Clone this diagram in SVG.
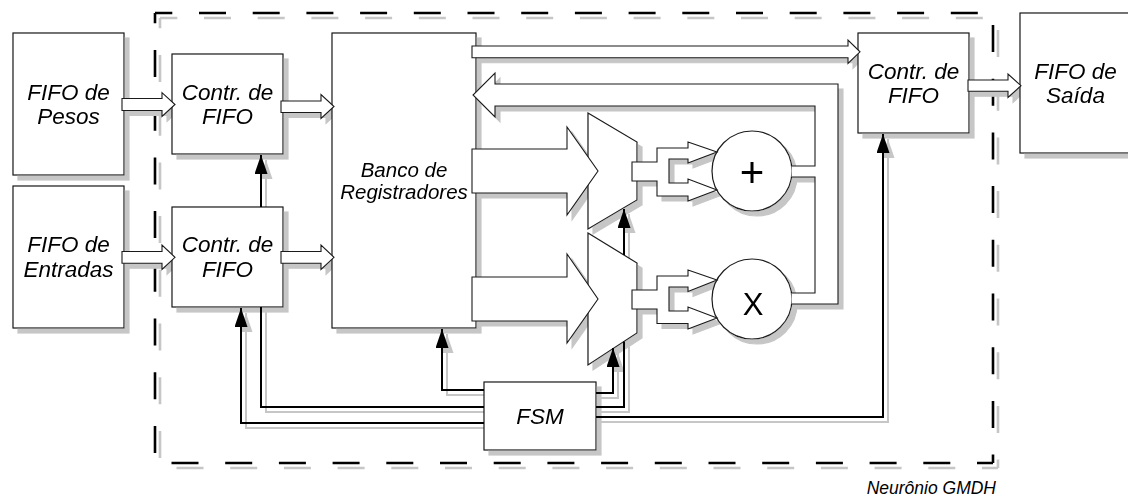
<svg xmlns="http://www.w3.org/2000/svg" xmlns:xlink="http://www.w3.org/1999/xlink" width="1128" height="498" viewBox="0 0 1128 498">
<defs>
<style>
.box{fill:#fff;stroke:#1a1a1a;stroke-width:1.2}
.lbl{font-family:"Liberation Sans",Arial,sans-serif;font-style:italic;font-size:22.5px;text-anchor:middle;fill:#000}
.op{font-family:"Liberation Sans",Arial,sans-serif;text-anchor:middle;fill:#000}
.bus{fill:#fff;stroke:#1a1a1a;stroke-width:1.1;stroke-linejoin:miter}
.busfill{fill:#fff;stroke:none}
.busline{fill:none;stroke:#1a1a1a;stroke-width:1.1}
.ctl{fill:none;stroke:#000;stroke-width:2}
.dash{fill:none;stroke:#000;stroke-width:2.6;stroke-dasharray:27 26.7}
</style>
<filter id="sh" filterUnits="userSpaceOnUse" x="0" y="0" width="1128" height="498">
<feOffset in="SourceAlpha" dx="5" dy="5" result="o"/>
<feFlood flood-color="#c6c6c6"/>
<feComposite in2="o" operator="in" result="s"/>
<feMerge><feMergeNode in="s"/><feMergeNode in="SourceGraphic"/></feMerge>
</filter>
<filter id="shonly" filterUnits="userSpaceOnUse" x="0" y="0" width="1128" height="498">
<feOffset in="SourceAlpha" dx="5" dy="5" result="o"/>
<feFlood flood-color="#c6c6c6"/>
<feComposite in2="o" operator="in"/>
</filter>
<marker id="ah" viewBox="0 0 19 13" markerUnits="userSpaceOnUse" markerWidth="19" markerHeight="13" refX="19" refY="6.5" orient="auto">
<path d="M0,0 L19,6.5 L0,13 Z" fill="#000"/>
</marker>
</defs>
<rect width="1128" height="498" fill="#fff"/>

<g id="boundary">
<g filter="url(#sh)">
<path class="dash" d="M155,13 H993" stroke-dashoffset="9.7"/>
<path class="dash" d="M155,13 V463" stroke-dashoffset="16.7"/>
<path class="dash" d="M993,13 V463" stroke-dashoffset="41.7"/>
<path class="dash" d="M155,463 H993" stroke-dashoffset="37.2"/>
</g>
<text class="lbl" x="996" y="494" style="font-size:17.5px;text-anchor:end">Neurônio GMDH</text>
</g>

<use xlink:href="#connectors" href="#connectors" filter="url(#shonly)"/>

<g id="fifo-pesos" filter="url(#sh)">
<rect class="box" x="13" y="33" width="111" height="142"/>
<text class="lbl" x="68.5" y="100">FIFO de</text>
<text class="lbl" x="68.5" y="124">Pesos</text>
</g>
<g id="fifo-entradas" filter="url(#sh)">
<rect class="box" x="13" y="186" width="111" height="142"/>
<text class="lbl" x="68.5" y="252">FIFO de</text>
<text class="lbl" x="68.5" y="277">Entradas</text>
</g>
<g id="contr-pesos" filter="url(#sh)">
<rect class="box" x="172" y="54" width="111" height="100"/>
<text class="lbl" x="227.5" y="100">Contr. de</text>
<text class="lbl" x="227.5" y="124">FIFO</text>
</g>
<g id="contr-entradas" filter="url(#sh)">
<rect class="box" x="172" y="207" width="111" height="100"/>
<text class="lbl" x="227.5" y="252">Contr. de</text>
<text class="lbl" x="227.5" y="277">FIFO</text>
</g>
<g id="banco" filter="url(#sh)">
<rect class="box" x="332" y="33" width="144" height="295"/>
<text class="lbl" x="404" y="177" style="font-size:20.5px">Banco de</text>
<text class="lbl" x="404" y="199" style="font-size:20.5px">Registradores</text>
</g>
<g id="fsm" filter="url(#sh)">
<rect class="box" x="484" y="382" width="112" height="68"/>
<text class="lbl" x="540" y="424">FSM</text>
</g>
<g id="mux-soma" filter="url(#sh)">
<polygon class="box" points="588,113 637,142 637,200 588,229"/>
</g>
<g id="mux-mult" filter="url(#sh)">
<polygon class="box" points="588,233 637,263 637,333 588,365"/>
</g>
<g id="somador" filter="url(#sh)">
<circle class="box" cx="752" cy="171" r="40"/>
<text class="op" x="752" y="187" style="font-size:42px">+</text>
</g>
<g id="multiplicador" filter="url(#sh)">
<circle class="box" cx="752" cy="299" r="40"/>
<text class="op" x="753" y="315" style="font-size:31px">X</text>
</g>
<g id="contr-saida" filter="url(#sh)">
<rect class="box" x="858" y="33" width="111" height="100"/>
<text class="lbl" x="913.5" y="78.5">Contr. de</text>
<text class="lbl" x="913.5" y="102.5">FIFO</text>
</g>
<g id="fifo-saida" filter="url(#sh)">
<rect class="box" x="1020" y="13" width="111" height="140"/>
<text class="lbl" x="1075.5" y="79">FIFO de</text>
<text class="lbl" x="1075.5" y="103">Saída</text>
</g>

<g id="connectors">
<path class="bus" d="M122,98.5 H162 V92.7 L175,104.5 L162,116.5 V110.5 H122 Z"/>
<path class="bus" d="M281,101 H321 V94.5 L334,106.5 L321,118.5 V112.5 H281 Z"/>
<path class="bus" d="M122,251.5 H162 V245 L175,257.3 L162,269.5 V263.3 H122 Z"/>
<path class="bus" d="M281,251.5 H321 V245 L334,257.3 L321,269.5 V263.3 H281 Z"/>
<path class="bus" d="M472,46 H848 V40 L860,51.8 L848,63.5 V57.7 H472 Z"/>
<path class="bus" d="M968,80 H1008 V74 L1021,85.7 L1008,97.5 V91.3 H968 Z"/>
<path class="bus" d="M472,149 H567 V127 L598,171 L567,215 V193 H472 Z"/>
<path class="bus" d="M472,277 H567 V254 L598,299 L567,343 V321 H472 Z"/>
<path class="bus" d="M632,162 H657 V148 H688 V142 L717,152 L688,163 V159 H669 V183 H688 V179 L717,190 L688,201 V196 H657 V181 H632 Z"/>
<path class="bus" d="M632,290 H657 V276 H688 V270 L717,280 L688,291.5 V287 H669 V311 H688 V307 L717,318 L688,329 V323.5 H657 V309 H632 Z"/>
<path class="busfill" d="M791.6,166 H815 V106 H495 V117 L473,95 L495,73 V84 H838 V304 H791.6 V293 H815 V177 H791.6 Z"/>
<path class="busline" d="M791.6,166 H815 V106 H495 V117 L473,95 L495,73 V84 H838 V304 H791.6 M791.6,293 H815 V177 H791.6"/>
<path class="ctl" d="M261,207 V155" marker-end="url(#ah)"/>
<path class="ctl" d="M484,423 H241 V308" marker-end="url(#ah)"/>
<path class="ctl" d="M261,307 V407 H484"/>
<path class="ctl" d="M484,390 H442 V329" marker-end="url(#ah)"/>
<path class="ctl" d="M596,393 H613 V348" marker-end="url(#ah)"/>
<path class="ctl" d="M596,407 H624 V341.5"/>
<path class="ctl" d="M624,255 V209" marker-end="url(#ah)"/>
<path class="ctl" d="M596,417 H883 V134" marker-end="url(#ah)"/>
</g>
</svg>
